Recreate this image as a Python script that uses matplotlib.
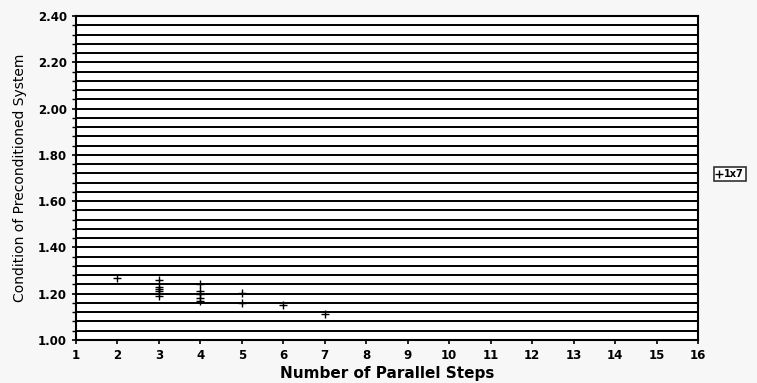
import numpy as np
import matplotlib.pyplot as plt

# data
steps = [2, 3, 3, 3, 3, 3, 4, 4, 4, 4, 4, 5, 5, 6, 7]
condition = [1.27, 1.26, 1.23, 1.22, 1.21, 1.19,
             1.24, 1.21, 1.20, 1.18, 1.17, 1.205, 1.16, 1.153, 1.113]
series_label = '1x7'

x_ticks = list(range(1, 17))
y_major = [1.00, 1.20, 1.40, 1.60, 1.80, 2.00, 2.20, 2.40]
y_grid = np.arange(1.04, 2.40, 0.04)

fig = plt.figure(figsize=(7.57, 3.83), dpi=100)
fig.patch.set_facecolor('#f7f7f7')
ax = fig.add_axes([76 / 757, 1 - 340 / 383, (698 - 76) / 757, (340 - 16) / 383])
ax.set_facecolor('white')

for g in y_grid:
    ax.axhline(g, color='black', linewidth=1.4, zorder=1)

ax.scatter(steps, condition, marker='+', s=40, color='black', linewidths=1.0,
           zorder=3, label=series_label)

ax.set_xlim(1, 16)
ax.set_ylim(1.00, 2.40)
ax.set_xticks(x_ticks)
ax.set_xticklabels([str(t) for t in x_ticks], fontsize=8.5, fontweight='bold')
ax.set_yticks(y_major)
ax.set_yticklabels([f'{v:.2f}' for v in y_major], fontsize=8.5, fontweight='bold')
ax.set_yticks(np.arange(1.00, 2.401, 0.04), minor=True)
ax.tick_params(axis='both', direction='out', length=3, width=1.2, colors='black')
ax.tick_params(axis='y', which='minor', direction='out', length=3, width=1.0)

for side in ['left', 'bottom', 'right', 'top']:
    ax.spines[side].set_linewidth(1.5)

ax.set_xlabel('Number of Parallel Steps', fontsize=11, fontweight='bold', labelpad=3)
ax.set_ylabel('Condition of Preconditioned System', fontsize=10,
              family=['Liberation Sans Narrow', 'DejaVu Sans'], labelpad=8)

leg = fig.legend(loc='center', bbox_to_anchor=(730 / 757, 1 - 174 / 383),
                 handlelength=0.6, handletextpad=0.2,
                 borderpad=0.2, frameon=True, fancybox=False,
                 prop={'weight': 'bold', 'size': 7})
leg.get_frame().set_edgecolor('black')
leg.get_frame().set_linewidth(1.2)

fig.savefig('out.png', dpi=100, facecolor=fig.get_facecolor())
